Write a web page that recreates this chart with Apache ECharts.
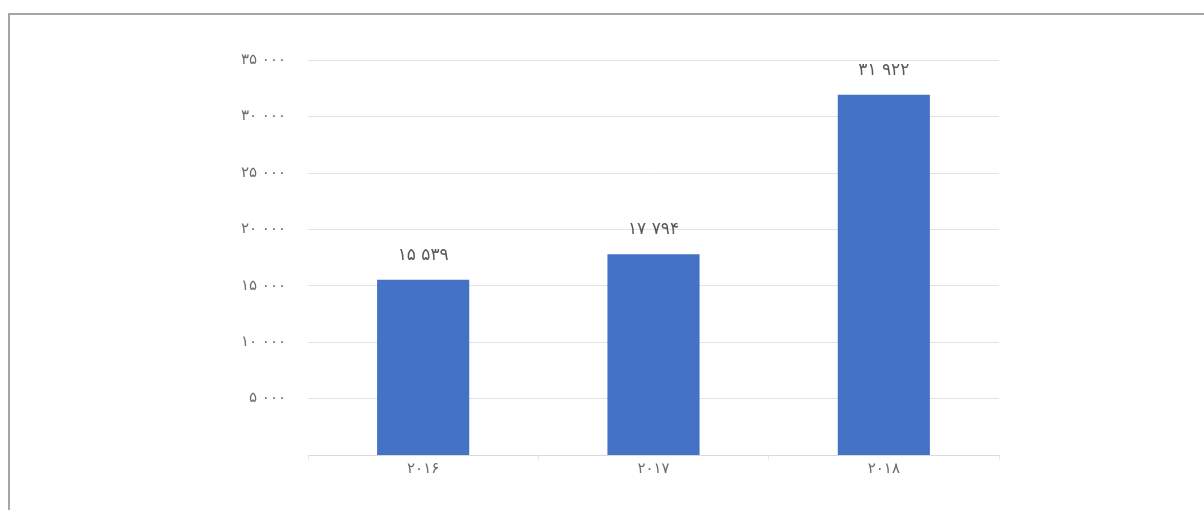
<!DOCTYPE html>
<html>
<head>
<meta charset="utf-8">
<script src="https://cdn.jsdelivr.net/npm/echarts@6/dist/echarts.min.js"></script>
<style>
  html, body { margin: 0; padding: 0; background: #ffffff; }
  #frame { position: absolute; left: 8px; top: 13px; width: 1300px; height: 600px;
           border-top: 2px solid #a6a6a6; border-left: 2px solid #a6a6a6; }
  #chart { position: absolute; left: 0; top: 0; width: 1204px; height: 510px; }
</style>
</head>
<body>
<div id="frame"></div>
<div id="chart"></div>
<script>
const categories = ['۲۰۱۶', '۲۰۱۷', '۲۰۱۸'];
const values = [15539, 17794, 31922];
const valueLabels = ['۱۵ ۵۳۹', '۱۷ ۷۹۴', '۳۱ ۹۲۲'];
const yTickLabels = ['', '۵ ۰۰۰', '۱۰ ۰۰۰', '۱۵ ۰۰۰', '۲۰ ۰۰۰', '۲۵ ۰۰۰', '۳۰ ۰۰۰', '۳۵ ۰۰۰'];

const chart = echarts.init(document.getElementById('chart'), null, { renderer: 'canvas' });
chart.setOption({
  backgroundColor: 'transparent',
  animation: false,
  grid: { left: 308, right: 205, top: 60, bottom: 55, containLabel: false },
  xAxis: {
    type: 'category',
    data: categories,
    axisLine: { show: true, lineStyle: { color: '#d9d9d9', width: 1 } },
    axisTick: { show: true, alignWithLabel: false, length: 5, lineStyle: { color: '#e6e6e6' } },
    axisLabel: { color: '#6b6b6b', fontSize: 15, margin: 7, fontFamily: 'DejaVu Sans' }
  },
  yAxis: {
    type: 'value',
    min: 0, max: 35000, interval: 5000,
    axisLine: { show: false },
    axisTick: { show: false },
    splitLine: { lineStyle: { color: '#e3e3e3', width: 1 } },
    axisLabel: {
      color: '#6b6b6b', fontSize: 15, margin: 22, fontFamily: 'DejaVu Sans',
      formatter: function (v) { return yTickLabels[Math.round(v / 5000)]; }
    }
  },
  series: [{
    type: 'bar',
    data: values,
    barWidth: '40%',
    itemStyle: { color: '#4472c4' },
    label: {
      show: true, position: 'top', distance: 16,
      color: '#595959', fontSize: 17, fontFamily: 'DejaVu Sans',
      formatter: function (p) { return valueLabels[p.dataIndex]; }
    }
  }]
});
</script>
</body>
</html>
